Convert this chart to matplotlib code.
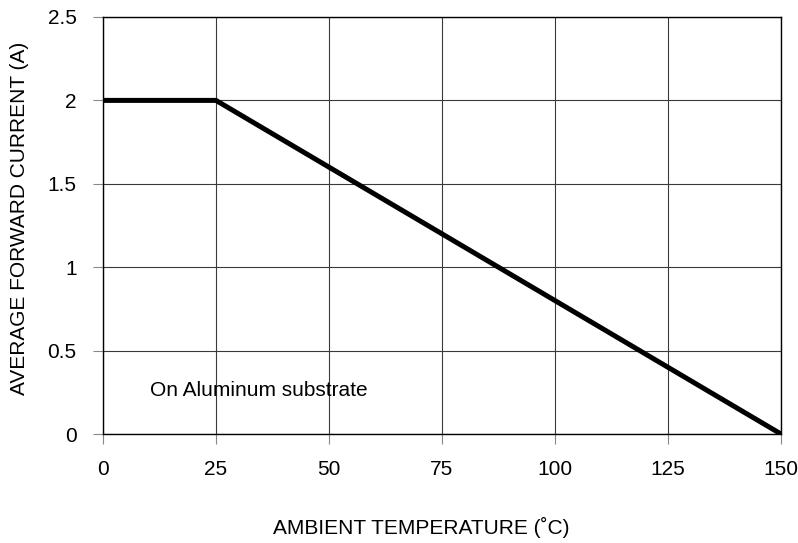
import matplotlib
matplotlib.use("Agg")
import matplotlib.pyplot as plt

# derating curve
temp = [0, 25, 150]
current = [2.0, 2.0, 0.0]

x_ticks = [0, 25, 50, 75, 100, 125, 150]
y_ticks = [0, 0.5, 1, 1.5, 2, 2.5]
y_tick_labels = ['0', '0.5', '1', '1.5', '2', '2.5']

plt.rcParams['font.family'] = ['Liberation Sans', 'DejaVu Sans']
plt.rcParams['font.size'] = 15

fig = plt.figure(figsize=(7.98, 5.43), dpi=100)
ax = fig.add_axes([0.129, 0.2007, 0.8497, 0.768])

ax.plot(temp, current, color='black', linewidth=3.6, solid_capstyle='round', zorder=3)

ax.set_xlim(0, 150)
ax.set_ylim(0, 2.5)
ax.set_xticks(x_ticks)
ax.set_yticks(y_ticks)
ax.set_yticklabels(y_tick_labels)
ax.grid(True, color='#3a3a3a', linewidth=0.8)
ax.tick_params(length=7, width=0.8, color='#888888', pad=12)

for side in ['top', 'bottom', 'left', 'right']:
    ax.spines[side].set_color('black')
    ax.spines[side].set_linewidth(1.0)

ax.text(10.4, 0.26, 'On Aluminum substrate', va='center', ha='left')

ax.set_xlabel('AMBIENT TEMPERATURE (˚C)', va='center')
ax.xaxis.set_label_coords(0.47, -0.223)
ax.set_ylabel('AVERAGE FORWARD CURRENT (A)', va='center')
ax.yaxis.set_label_coords(-0.1224, 0.516)

plt.savefig('out.png', dpi=100)
